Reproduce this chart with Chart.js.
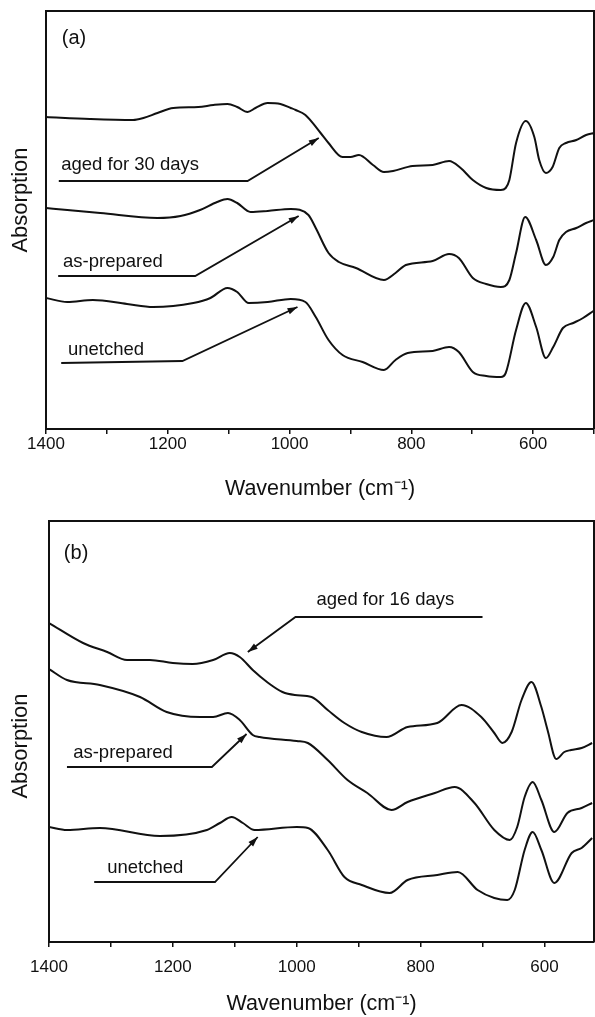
<!DOCTYPE html>
<html>
<head>
<meta charset="utf-8">
<script src="https://cdn.jsdelivr.net/npm/chart.js@4"></script>
<style>
  html, body { margin: 0; padding: 0; background: #fff; }
  .panel { position: absolute; left: 0; width: 595px; }
  #wrapA { top: 0; height: 506px; }
  #wrapB { top: 506px; height: 511px; }
</style>
</head>
<body>
<div class="panel" id="wrapA"><canvas id="panel-a"></canvas></div>
<div class="panel" id="wrapB"><canvas id="panel-b"></canvas></div>
<script>
// values, absorption in arbitrary units (stacked traces)
const xTickLabels = [1400, 1200, 1000, 800, 600];

// panel (a)
const aged30Wn  = [1400, 1328, 1257, 1240, 1217, 1191, 1150, 1125, 1102, 1086, 1069, 1056, 1036, 1015, 998, 990, 974, 949, 936, 913, 900, 886, 863, 845, 830, 798, 765, 738, 719, 699, 677, 653, 645, 639, 628, 612, 598, 590, 579, 568, 557, 546, 529, 513, 499];
const aged30Abs = [3.12, 3.10, 3.09, 3.11, 3.16, 3.21, 3.22, 3.24, 3.25, 3.22, 3.17, 3.21, 3.26, 3.25, 3.21, 3.19, 3.14, 2.96, 2.86, 2.72, 2.72, 2.74, 2.64, 2.57, 2.58, 2.63, 2.64, 2.68, 2.61, 2.49, 2.41, 2.39, 2.41, 2.49, 2.86, 3.08, 2.92, 2.69, 2.56, 2.62, 2.81, 2.86, 2.89, 2.94, 2.96];

const prepAWn  = [1400, 1365, 1311, 1217, 1179, 1147, 1119, 1102, 1086, 1064, 1036, 998, 969, 957, 936, 919, 891, 845, 826, 809, 765, 738, 722, 699, 677, 653, 639, 628, 613, 595, 579, 567, 557, 546, 529, 513, 500];
const prepAAbs = [2.21, 2.19, 2.16, 2.11, 2.13, 2.19, 2.27, 2.30, 2.26, 2.17, 2.18, 2.20, 2.14, 2.01, 1.76, 1.67, 1.61, 1.49, 1.56, 1.64, 1.68, 1.75, 1.71, 1.51, 1.45, 1.42, 1.49, 1.76, 2.12, 1.89, 1.64, 1.72, 1.89, 1.97, 2.01, 2.06, 2.09];

const unetchAWn  = [1400, 1365, 1323, 1267, 1224, 1158, 1130, 1102, 1086, 1067, 1036, 998, 974, 957, 936, 913, 880, 845, 826, 806, 765, 738, 722, 699, 677, 653, 645, 628, 612, 595, 579, 567, 551, 534, 518, 501];
const unetchAAbs = [1.31, 1.27, 1.29, 1.25, 1.22, 1.26, 1.31, 1.41, 1.37, 1.26, 1.27, 1.30, 1.27, 1.12, 0.89, 0.74, 0.67, 0.59, 0.69, 0.76, 0.78, 0.82, 0.77, 0.57, 0.53, 0.52, 0.56, 0.99, 1.26, 1.02, 0.71, 0.82, 1.01, 1.06, 1.11, 1.18];

// panel (b)
const aged16Wn  = [1400, 1345, 1306, 1274, 1237, 1200, 1168, 1135, 1108, 1092, 1071, 1048, 1023, 1003, 976, 950, 923, 895, 855, 821, 773, 734, 702, 681, 668, 653, 637, 621, 605, 595, 581, 568, 557, 540, 523];
const aged16Abs = [3.19, 2.99, 2.90, 2.82, 2.82, 2.79, 2.78, 2.82, 2.89, 2.85, 2.72, 2.60, 2.50, 2.47, 2.45, 2.32, 2.19, 2.10, 2.05, 2.15, 2.19, 2.37, 2.25, 2.09, 1.99, 2.10, 2.42, 2.60, 2.35, 2.12, 1.83, 1.90, 1.92, 1.94, 1.99];

const prepBWn  = [1400, 1371, 1318, 1253, 1210, 1156, 1135, 1111, 1092, 1071, 1060, 1000, 982, 950, 918, 886, 847, 821, 777, 745, 713, 681, 656, 644, 632, 619, 605, 584, 563, 540, 523];
const prepBAbs = [2.73, 2.62, 2.57, 2.45, 2.30, 2.25, 2.25, 2.29, 2.22, 2.07, 2.05, 2.01, 1.99, 1.82, 1.62, 1.49, 1.32, 1.40, 1.49, 1.55, 1.39, 1.12, 1.02, 1.15, 1.45, 1.60, 1.42, 1.10, 1.29, 1.34, 1.39];

const unetchBWn  = [1400, 1371, 1318, 1221, 1145, 1124, 1105, 1087, 1068, 1000, 982, 950, 923, 895, 850, 821, 773, 740, 708, 681, 660, 648, 632, 619, 605, 584, 556, 540, 523];
const unetchBAbs = [1.15, 1.12, 1.14, 1.06, 1.12, 1.19, 1.25, 1.19, 1.12, 1.15, 1.14, 0.92, 0.65, 0.57, 0.49, 0.62, 0.67, 0.70, 0.52, 0.44, 0.42, 0.52, 0.92, 1.10, 0.92, 0.59, 0.89, 0.94, 1.04];

const FONT = '"Liberation Sans", Arial, Helvetica, sans-serif';
const INK = '#111';

function toPoints(wn, abs) {
  return wn.map((w, i) => ({ x: w, y: abs[i] }));
}

function trace(wn, abs) {
  return {
    data: toPoints(wn, abs),
    borderColor: INK,
    borderWidth: 2,
    pointRadius: 0,
    cubicInterpolationMode: 'monotone',
    fill: false
  };
}

// frame, panel tag, labels with arrows, y title
const notesPlugin = {
  id: 'notes',
  afterDatasetsDraw(chart, args, opts) {
    const { ctx, chartArea } = chart;
    const xs = chart.scales.x, ys = chart.scales.y;
    const px = p => [xs.getPixelForValue(p[0]), ys.getPixelForValue(p[1])];
    ctx.save();
    ctx.strokeStyle = INK;
    ctx.fillStyle = INK;
    ctx.lineWidth = 2;
    ctx.beginPath();
    ctx.moveTo(chartArea.left, chartArea.top);
    ctx.lineTo(chartArea.right, chartArea.top);
    ctx.lineTo(chartArea.right, chartArea.bottom);
    ctx.stroke();

    ctx.textAlign = 'left';
    ctx.textBaseline = 'alphabetic';
    ctx.font = '20px ' + FONT;
    const t = px(opts.tag.at);
    ctx.fillText(opts.tag.text, t[0], t[1]);

    ctx.font = '18.5px ' + FONT;
    opts.labels.forEach(l => {
      const p = px(l.at);
      ctx.fillText(l.text, p[0], p[1]);
      const pts = l.path.map(px);
      ctx.lineWidth = 1.8;
      ctx.beginPath();
      pts.forEach((q, i) => i ? ctx.lineTo(q[0], q[1]) : ctx.moveTo(q[0], q[1]));
      ctx.stroke();
      const [x1, y1] = pts[pts.length - 2];
      const [x2, y2] = pts[pts.length - 1];
      const a = Math.atan2(y2 - y1, x2 - x1);
      const L = 10, W = 3.2;
      ctx.beginPath();
      ctx.moveTo(x2, y2);
      ctx.lineTo(x2 - L * Math.cos(a) + W * Math.sin(a), y2 - L * Math.sin(a) - W * Math.cos(a));
      ctx.lineTo(x2 - L * Math.cos(a) - W * Math.sin(a), y2 - L * Math.sin(a) + W * Math.cos(a));
      ctx.closePath();
      ctx.fill();
    });

    ctx.translate(21, ys.getPixelForValue(opts.yTitleAt));
    ctx.rotate(-Math.PI / 2);
    ctx.textAlign = 'center';
    ctx.textBaseline = 'middle';
    ctx.font = '22px ' + FONT;
    ctx.fillText('Absorption', 0, 0);
    ctx.restore();
  }
};

function makePanel(id, cfg) {
  const ctx = document.getElementById(id).getContext('2d');
  return new Chart(ctx, {
    type: 'line',
    data: { datasets: cfg.datasets },
    options: {
      responsive: true,
      maintainAspectRatio: false,
      animation: false,
      layout: { padding: { top: cfg.padTop, right: 1, left: 0, bottom: 0 } },
      plugins: {
        legend: { display: false },
        tooltip: { enabled: false },
        notes: cfg.notes
      },
      scales: {
        x: {
          type: 'linear',
          reverse: true,
          min: cfg.xMin,
          max: 1400,
          ticks: {
            stepSize: 100,
            includeBounds: false,
            autoSkip: false,
            maxRotation: 0,
            padding: 0,
            color: INK,
            font: { family: FONT, size: 17, lineHeight: cfg.tickLH },
            callback: v => xTickLabels.includes(v) ? String(v) : ''
          },
          grid: { drawOnChartArea: false, drawTicks: true, tickLength: 5, color: INK, lineWidth: 1.5 },
          border: { color: INK, width: 2 },
          title: {
            display: true,
            text: 'Wavenumber (cm\u207B\u00B9)',
            color: INK,
            font: { family: FONT, size: 21.5 },
            padding: { top: 0, bottom: cfg.titlePad }
          },
          afterFit: s => { s.height = cfg.xHeight; }
        },
        y: {
          min: 0,
          max: cfg.yMax,
          ticks: { display: false },
          grid: { display: false },
          border: { color: INK, width: 2 },
          afterFit: s => { s.width = cfg.yWidth; }
        }
      }
    },
    plugins: [notesPlugin]
  });
}

makePanel('panel-a', {
  datasets: [trace(aged30Wn, aged30Abs), trace(prepAWn, prepAAbs), trace(unetchAWn, unetchAAbs)],
  padTop: 11, xMin: 500, yMax: 4.18, yWidth: 46, xHeight: 77, tickLH: 1.2, titlePad: 4,
  notes: {
    tag: { text: '(a)', at: [1374, 3.85] },
    yTitleAt: 2.29,
    labels: [
      { text: 'aged for 30 days', at: [1375, 2.59], path: [[1379, 2.48], [1069, 2.48], [952, 2.91]] },
      { text: 'as-prepared', at: [1372, 1.62], path: [[1380, 1.53], [1155, 1.53], [985, 2.13]] },
      { text: 'unetched', at: [1364, 0.74], path: [[1375, 0.66], [1176, 0.68], [987, 1.22]] }
    ]
  }
});

makePanel('panel-b', {
  datasets: [trace(aged16Wn, aged16Abs), trace(prepBWn, prepBAbs), trace(unetchBWn, unetchBAbs)],
  padTop: 15, xMin: 520, yMax: 4.21, yWidth: 49, xHeight: 75, tickLH: 2.4, titlePad: 0,
  notes: {
    tag: { text: '(b)', at: [1376, 3.83] },
    yTitleAt: 1.96,
    labels: [
      { text: 'aged for 16 days', at: [968, 3.37], path: [[700, 3.25], [1002, 3.25], [1079, 2.90]] },
      { text: 'as-prepared', at: [1361, 1.84], path: [[1371, 1.75], [1137, 1.75], [1081, 2.08]] },
      { text: 'unetched', at: [1306, 0.69], path: [[1327, 0.60], [1132, 0.60], [1063, 1.05]] }
    ]
  }
});
</script>
</body>
</html>
